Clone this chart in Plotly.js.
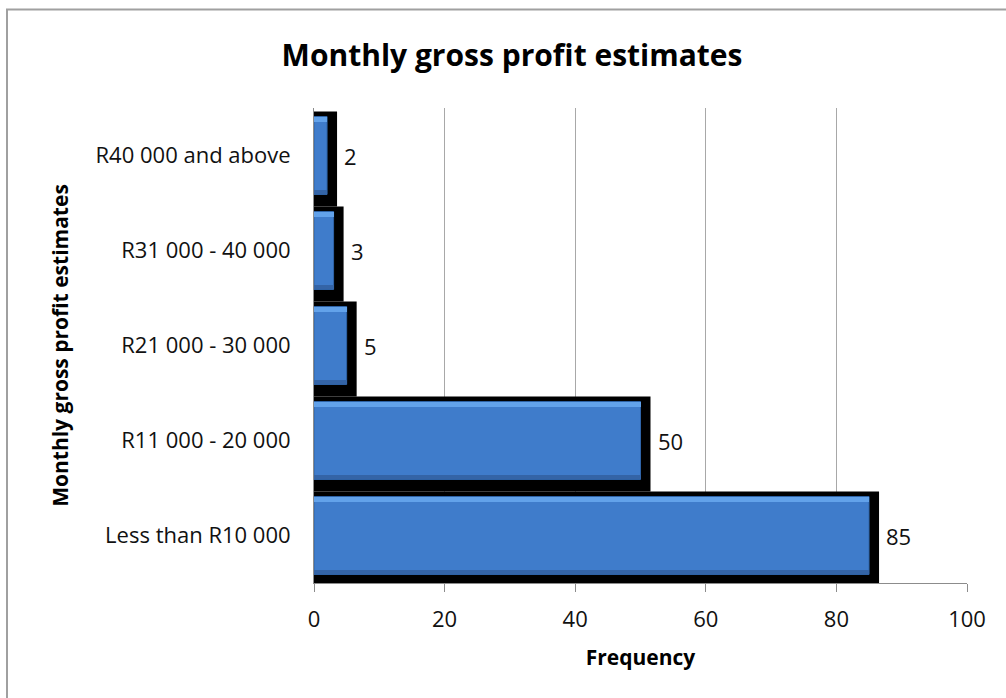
<!DOCTYPE html>
<html>
<head>
<meta charset="utf-8">
<script src="https://cdn.plot.ly/plotly-3.0.1.min.js"></script>
<style>
  html, body { margin: 0; padding: 0; background: #ffffff; }
  #chart { width: 1006px; height: 698px; }
</style>
</head>
<body>
<div id="chart"></div>
<script>
// Profit bands, listed from the bottom of the axis to the top
const categories = [
  'Less than R10 000',
  'R11 000 - 20 000',
  'R21 000 - 30 000',
  'R31 000 - 40 000',
  'R40 000 and above'
];
// Number of businesses in each band
const frequencies = [85, 50, 5, 3, 2];

const xTickValues = [0, 20, 40, 60, 80, 100];
const xTickLabels = ['0', '20', '40', '60', '80', '100'];

const FONT = '"Open Sans", Lato, "DejaVu Sans", sans-serif';

// Hard black drop shadow behind each bar (stroke pushes it out past the bar end)
const shadow = {
  type: 'bar', orientation: 'h',
  x: frequencies, y: categories,
  width: 0.79, offset: -0.432,
  marker: { color: '#000000', line: { color: '#000000', width: 20 } },
  hoverinfo: 'skip', showlegend: false
};

// Main blue bars
const bars = {
  type: 'bar', orientation: 'h',
  x: frequencies, y: categories,
  width: 0.82, offset: -0.41,
  marker: { color: '#3f7ccb', line: { color: '#2f64a8', width: 1 } },
  hoverinfo: 'skip', showlegend: false
};

// Bevel: light strip along the top edge
const bevelTop = {
  type: 'bar', orientation: 'h',
  x: frequencies, y: categories,
  width: 0.05, offset: 0.355,
  marker: { color: '#62a2ea', line: { width: 0 } },
  hoverinfo: 'skip', showlegend: false
};

// Bevel: darker strip along the bottom edge
const bevelBottom = {
  type: 'bar', orientation: 'h',
  x: frequencies, y: categories,
  width: 0.045, offset: -0.405,
  marker: { color: '#3464a6', line: { width: 0 } },
  hoverinfo: 'skip', showlegend: false
};

// Value labels to the right of each bar
const valueLabels = frequencies.map((v, i) => ({
  x: v, y: categories[i], xref: 'x', yref: 'y',
  text: String(v), showarrow: false,
  xanchor: 'left', yanchor: 'middle', xshift: 15, yshift: 0,
  font: { family: FONT, size: 22, color: '#111111' }
}));

const layout = {
  width: 1006, height: 698,
  margin: { l: 314, r: 39, t: 108, b: 114.5 },
  paper_bgcolor: '#ffffff', plot_bgcolor: '#ffffff',
  barmode: 'overlay',
  bargap: 0,
  font: { family: FONT, color: '#111111' },
  title: {
    text: '<b>Monthly gross profit estimates</b>',
    font: { family: FONT, size: 30, color: '#000000' },
    xref: 'container', x: 0.509, xanchor: 'center',
    yref: 'container', y: 1 - 55 / 698, yanchor: 'middle'
  },
  xaxis: {
    range: [0, 100],
    tickvals: xTickValues, ticktext: xTickLabels,
    showgrid: true, gridcolor: '#a8a8a8', gridwidth: 1,
    zeroline: false,
    showline: true, linecolor: '#8c8c8c', linewidth: 1,
    ticks: 'outside', ticklen: 8, tickcolor: '#8c8c8c', tickwidth: 1,
    ticklabelstandoff: 9,
    tickfont: { family: FONT, size: 22, color: '#111111' },
    title: {
      text: '<b>Frequency</b>',
      font: { family: FONT, size: 21, color: '#000000' },
      standoff: 17
    },
    fixedrange: true
  },
  yaxis: {
    type: 'category',
    categoryorder: 'array', categoryarray: categories,
    range: [-0.5, categories.length - 0.5],
    showgrid: false, zeroline: false,
    showline: true, linecolor: '#8c8c8c', linewidth: 1,
    ticks: '', ticklabelstandoff: 18,
    tickfont: { family: FONT, size: 22, color: '#111111' },
    title: {
      text: '<b>Monthly gross profit estimates</b>',
      font: { family: FONT, size: 21, color: '#000000' },
      standoff: 21
    },
    fixedrange: true
  },
  annotations: valueLabels,
  shapes: [
    // thin grey frame around the chart area
    {
      type: 'rect', xref: 'paper', yref: 'paper', layer: 'below',
      x0: (7 - 314) / 653, x1: 1.2,
      y0: -0.4, y1: (583.5 - 9.5) / 475.5,
      line: { color: '#a0a0a0', width: 2 }, fillcolor: 'rgba(0,0,0,0)'
    }
  ]
};

Plotly.newPlot('chart', [shadow, bars, bevelTop, bevelBottom], layout,
  { displayModeBar: false, staticPlot: true });
</script>
</body>
</html>
